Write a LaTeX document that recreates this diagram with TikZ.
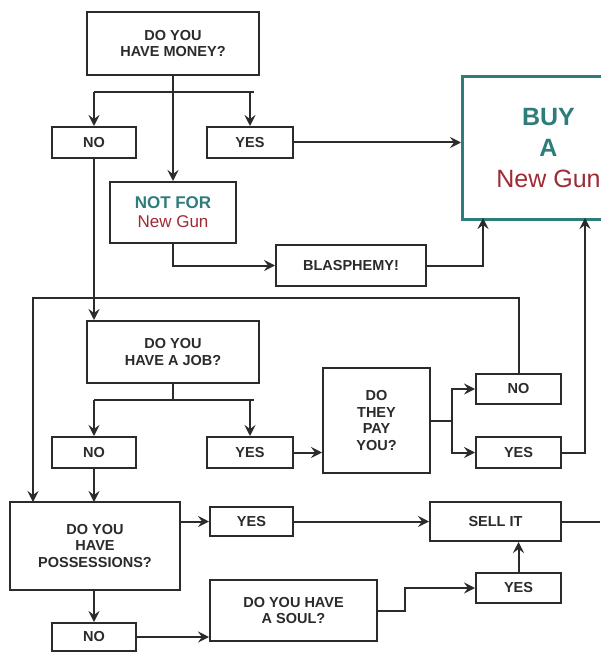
\documentclass[tikz,border=0pt]{standalone}
\usepackage{fontspec}
\setmainfont{Liberation Sans}
\usetikzlibrary{arrows.meta}
\definecolor{ink}{HTML}{2B2B2B}
\definecolor{teal}{HTML}{2E7D7A}
\definecolor{dred}{HTML}{9E2A35}
\begin{document}
\begin{tikzpicture}[x=1pt,y=-1pt,
  bx/.style={draw=ink,line width=2pt,fill=white,text=ink,align=center,inner sep=1pt,font=\fontsize{14.5}{16.5}\selectfont\bfseries},
  ln/.style={draw=ink,line width=2pt},
  ar/.style={ln,-{Stealth[length=11pt,width=11pt,inset=4pt]}}]
\useasboundingbox (0,0) rectangle (600,655);
\fill[white] (0,0) rectangle (600,655);
\node[bx,minimum width=172,minimum height=63] (money) at (173,43.5) {DO YOU\\HAVE MONEY?};
\node[bx,minimum width=84,minimum height=31] (no1) at (94,142.5) {NO};
\node[bx,minimum width=86,minimum height=31] (yes1) at (250,142.5) {YES};
\node[draw=teal,line width=3pt,fill=white,minimum width=172,minimum height=143,align=center,font=\fontsize{25}{31}\selectfont,anchor=north west] (buy) at (461,75) {\textcolor{teal}{\bfseries BUY}\\\textcolor{teal}{\bfseries A}\\\textcolor{dred}{New Gun}};
\node[bx,minimum width=126,minimum height=61,font=\fontsize{17}{19}\selectfont] (notfor) at (173,212.5) {\textcolor{teal}{\bfseries NOT FOR}\\\textcolor{dred}{New Gun}};
\node[bx,minimum width=150,minimum height=41] (blas) at (351,265.5) {BLASPHEMY!};
\node[bx,minimum width=172,minimum height=62] (job) at (173,352) {DO YOU\\HAVE A JOB?};
\node[bx,minimum width=84,minimum height=31] (no2) at (94,452.5) {NO};
\node[bx,minimum width=86,minimum height=31] (yes2) at (250,452.5) {YES};
\node[bx,minimum width=107,minimum height=105] (pay) at (376.5,420.5) {DO\\THEY\\PAY\\YOU?};
\node[bx,minimum width=85,minimum height=30] (no3) at (518.5,389) {NO};
\node[bx,minimum width=85,minimum height=31] (yes3) at (518.5,452.5) {YES};
\node[bx,minimum width=170,minimum height=88] (poss) at (95,546) {DO YOU\\HAVE\\POSSESSIONS?};
\node[bx,minimum width=83,minimum height=29] (yes4) at (251.5,521.5) {YES};
\node[bx,minimum width=131,minimum height=39] (sell) at (495.5,521.5) {SELL IT};
\node[bx,minimum width=85,minimum height=30] (yes5) at (518.5,588) {YES};
\node[bx,minimum width=167,minimum height=61] (soul) at (293.5,610.5) {DO YOU HAVE\\A SOUL?};
\node[bx,minimum width=84,minimum height=28,anchor=north] (no4) at (94,622) {NO};
\coordinate (sellend) at (600,521.5);
\draw[ln] (money.south) -- (173,92);
\draw[ln] (94,92) -- (254,92);
\draw[ar] (94,92) -- (no1.north);
\draw[ar] (250,92) -- (yes1.north);
\draw[ar] (173,92) -- (notfor.north);
\draw[ar] (yes1.east) -- (buy.west |- yes1.east);
\draw[ar] (notfor.south) |- (blas.west);
\draw[ar] (blas.east) -| (483,218);
\draw[ar] (yes3.east) -| (585,218);
\draw[ar] (no1.south) -- (job.north -| no1.south);
\draw[ar] (no3.north) |- (33,298) -- (33,502);
\draw[ln] (job.south) -- (173,400);
\draw[ln] (94,400) -- (254,400);
\draw[ar] (94,400) -- (no2.north);
\draw[ar] (250,400) -- (yes2.north);
\draw[ar] (yes2.east) -- (pay.west |- yes2.east);
\draw[ln] (pay.east) -- (452,420.5);
\draw[ar] (452,420.5) |- (no3.west);
\draw[ar] (452,420.5) |- (yes3.west);
\draw[ar] (no2.south) -- (94,502);
\draw[ar] (poss.east |- yes4.west) -- (yes4.west);
\draw[ar] (yes4.east) -- (sell.west);
\draw[ln] (sell.east) -- (sellend);
\draw[ar] (yes5.north) -- (sell.south -| yes5.north);
\draw[ar] (soul.east) -- (405,610.5) |- (yes5.west);
\draw[ar] (poss.south -| no4.north) -- (no4.north);
\draw[ar] (no4.east) -- (soul.west |- no4.east);
\end{tikzpicture}
\end{document}
